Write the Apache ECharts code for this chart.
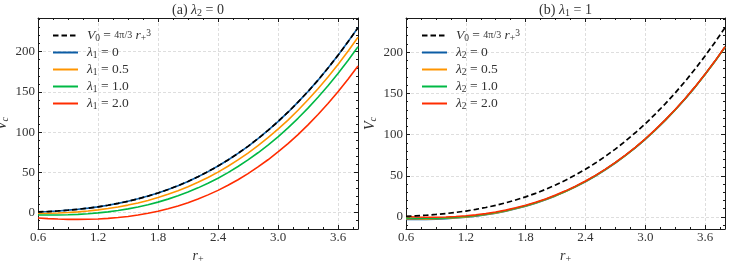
<!DOCTYPE html>
<html><head><meta charset="utf-8">
<script src="https://cdn.jsdelivr.net/npm/echarts@6/dist/echarts.min.js"></script>
<style>html,body{margin:0;padding:0;background:#fff}#c{width:730px;height:262px}</style>
</head><body><div id="c"></div>
<script>
// ---------- data ----------
const r = [0.6,0.7,0.8,0.9,1.0,1.1,1.2,1.3,1.4,1.5,1.6,1.7,1.8,1.9,2.0,2.1,2.2,2.3,2.4,2.5,2.6,2.7,2.8,2.9,3.0,3.1,3.2,3.3,3.4,3.5,3.6,3.7,3.8];
const V0 = [0.9,1.4,2.1,3.1,4.2,5.6,7.2,9.2,11.5,14.1,17.2,20.6,24.4,28.7,33.5,38.8,44.6,51.0,57.9,65.4,73.6,82.4,92.0,102.2,113.1,124.8,137.3,150.5,164.6,179.6,195.4,212.2,229.8];
// panel (a): lambda2 = 0
const a_l1_0  = [0.9,1.4,2.1,3.1,4.2,5.6,7.2,9.2,11.5,14.1,17.2,20.6,24.4,28.7,33.5,38.8,44.6,51.0,57.9,65.4,73.6,82.4,92.0,102.2,113.1,124.8,137.3,150.5,164.6,179.6,195.4,212.2,229.8];
const a_l1_05 = [-1.0,-0.8,-0.4,0.2,1.0,2.1,3.5,5.1,7.1,9.4,12.1,15.2,18.8,22.8,27.2,32.2,37.7,43.7,50.4,57.6,65.5,74.0,83.2,93.1,103.7,115.0,127.2,140.2,154.0,168.6,184.1,200.6,217.9];
const a_l1_10 = [-2.9,-3.0,-2.9,-2.6,-2.1,-1.3,-0.3,1.0,2.7,4.7,7.1,9.9,13.1,16.8,20.9,25.6,30.8,36.5,42.8,49.7,57.3,65.5,74.4,83.9,94.2,105.3,117.2,129.8,143.3,157.6,172.8,188.9,206.0];
const a_l1_20 = [-6.6,-7.4,-7.9,-8.3,-8.4,-8.2,-7.8,-7.1,-6.1,-4.7,-2.9,-0.8,1.8,4.9,8.4,12.4,17.0,22.1,27.7,34.0,40.9,48.5,56.8,65.7,75.4,85.8,97.0,109.1,121.9,135.6,150.2,165.7,182.1];
// panel (b): lambda1 = 1
const b_l2_0  = [-2.9,-3.0,-2.9,-2.6,-2.1,-1.3,-0.3,1.0,2.7,4.7,7.1,9.9,13.1,16.8,20.9,25.6,30.8,36.5,42.8,49.7,57.3,65.5,74.4,83.9,94.2,105.3,117.2,129.8,143.3,157.6,172.8,188.9,206.0];
const b_l2_05 = [-2.0,-2.2,-2.3,-2.0,-1.6,-0.9,0.1,1.4,3.1,5.0,7.4,10.2,13.4,17.1,21.2,25.8,31.0,36.7,43.0,49.9,57.5,65.7,74.5,84.1,94.4,105.5,117.3,129.9,143.4,157.7,172.9,189.1,206.1];
const b_l2_10 = [-1.2,-1.5,-1.6,-1.5,-1.1,-0.4,0.5,1.8,3.4,5.4,7.7,10.5,13.7,17.3,21.4,26.1,31.2,36.9,43.2,50.1,57.7,65.9,74.7,84.3,94.6,105.6,117.5,130.1,143.6,157.9,173.1,189.2,206.2];
const b_l2_20 = [0.5,-0.1,-0.4,-0.4,-0.1,0.5,1.4,2.6,4.1,6.0,8.3,11.1,14.2,17.8,21.9,26.6,31.7,37.4,43.7,50.5,58.1,66.2,75.1,84.6,94.9,106.0,117.8,130.4,143.9,158.2,173.4,189.5,206.5];

const xMinorTicks = [0.75,0.9,1.05,1.35,1.5,1.65,1.95,2.1,2.25,2.55,2.7,2.85,3.15,3.3,3.45,3.75];
const yMajorTicks = [0,50,100,150,200];
const yMinorTicks = [-10,10,20,30,40,60,70,80,90,110,120,130,140,160,170,180,190,210,220,230,240];

// ---------- styling ----------
const F = 'Liberation Serif';
const FS = 13;
const TXT = '#333';
function mkRich(fs, sfs, lh) {
  return {
    n: {fontFamily: F, fontSize: fs, color: TXT, lineHeight: lh, verticalAlign: 'middle'},
    i: {fontFamily: F, fontSize: fs, color: TXT, fontStyle: 'italic', lineHeight: lh, verticalAlign: 'middle'},
    s: {fontFamily: F, fontSize: sfs, color: TXT, lineHeight: lh, verticalAlign: 'bottom', padding: [0,0,1,0]},
    si: {fontFamily: F, fontSize: sfs, color: TXT, fontStyle: 'italic', lineHeight: lh, verticalAlign: 'bottom', padding: [0,0,1,0]},
    p: {fontFamily: F, fontSize: sfs, color: TXT, lineHeight: lh, verticalAlign: 'top', padding: [1,0,0,0]},
    f: {fontFamily: F, fontSize: sfs + 0.5, color: TXT, lineHeight: lh, verticalAlign: 'middle'}
  };
}
const richLegend = mkRich(13.5, 9.5, 17);
const richName = mkRich(14, 10, 18);
const labels = {
  V0: '{i|V}{s|0}{n| = }{f|4π/3}{i| r}{s|+}{p|3}',
  a0: '{i|λ}{s|1}{n| = 0}', a05: '{i|λ}{s|1}{n| = 0.5}', a10: '{i|λ}{s|1}{n| = 1.0}', a20: '{i|λ}{s|1}{n| = 2.0}',
  b0: '{i|λ}{s|2}{n| = 0}', b05: '{i|λ}{s|2}{n| = 0.5}', b10: '{i|λ}{s|2}{n| = 1.0}', b20: '{i|λ}{s|2}{n| = 2.0}'
};
const COLORS = {blue: '#0C5DA5', orange: '#FF9500', green: '#00B945', red: '#FF2C00'};
const FRAME = '#1a1a1a';
const gridLine = {show: true, lineStyle: {color: '#d6d6d6', type: [3, 2], width: 0.8}};
const ICON_SOLID = 'path://M0,0h25v2h-25z';
const ICON_DASH = 'path://M0,0h5.5v2h-5.5zM8.5,0h5.5v2h-5.5zM17,0h5.5v2h-5.5zM25,0h0.01v2h-0.01z';

const xAxes = [], yAxes = [];
function addAxes(g, ymin, ymax, title) {
  const base = {gridIndex: g, type: 'value', min: 0.6, max: 3.8};
  xAxes.push(Object.assign({}, base, {position: 'bottom', interval: 0.6,
    axisLine: {show: true, onZero: false, lineStyle: {color: FRAME, width: 1}},
    axisTick: {show: true, inside: true, length: 4, lineStyle: {color: FRAME}},
    axisLabel: {show: true, fontFamily: F, fontSize: FS, color: TXT, margin: 2, showMaxLabel: false,
      formatter: v => v.toFixed(1)},
    splitLine: gridLine,
    name: '{i|r}{s|+}', nameLocation: 'middle', nameGap: 8, nameTextStyle: {rich: richName}}));
  xAxes.push(Object.assign({}, base, {position: 'top', interval: 0.6,
    axisLine: {show: true, onZero: false, lineStyle: {color: FRAME, width: 1}},
    axisTick: {show: true, inside: true, length: 4, lineStyle: {color: FRAME}},
    axisLabel: {show: false}, splitLine: {show: false},
    name: title, nameLocation: 'middle', nameGap: -1, nameTextStyle: {rich: richName}}));
  ['bottom', 'top'].forEach(p => xAxes.push(Object.assign({}, base, {position: p,
    axisLine: {show: false, onZero: false},
    axisTick: {show: true, inside: true, length: 2, lineStyle: {color: FRAME}, customValues: xMinorTicks},
    axisLabel: {show: false}, splitLine: {show: false}})));
  const yb = {gridIndex: g, type: 'value', min: ymin, max: ymax, splitNumber: 5};
  yAxes.push(Object.assign({}, yb, {position: 'left',
    axisLine: {show: true, onZero: false, lineStyle: {color: FRAME, width: 1}},
    axisTick: {show: true, inside: true, length: 4, lineStyle: {color: FRAME}, customValues: yMajorTicks},
    axisLabel: {show: true, fontFamily: F, fontSize: FS, color: TXT, margin: 3, customValues: yMajorTicks},
    splitLine: gridLine,
    name: '{i|V}{si|c}', nameLocation: 'middle', nameGap: 13, nameTextStyle: {rich: richName}}));
  yAxes.push(Object.assign({}, yb, {position: 'right',
    axisLine: {show: true, onZero: false, lineStyle: {color: FRAME, width: 1}},
    axisTick: {show: true, inside: true, length: 4, lineStyle: {color: FRAME}, customValues: yMajorTicks},
    axisLabel: {show: false}, splitLine: {show: false}}));
  ['left', 'right'].forEach(p => yAxes.push(Object.assign({}, yb, {position: p,
    axisLine: {show: false, onZero: false},
    axisTick: {show: true, inside: true, length: 2, lineStyle: {color: FRAME}, customValues: yMinorTicks},
    axisLabel: {show: false}, splitLine: {show: false}})));
}
addAxes(0, -20.3, 241.8, '{n|(a) }{i|λ}{s|2}{n| = 0}');
addAxes(1, -14.6, 241.5, '{n|(b) }{i|λ}{s|1}{n| = 1}');

function pts(ys) { return r.map((x, k) => [x, ys[k]]); }
function line(name, g, ys, color, dashed, z) {
  return {name, type: 'line', xAxisIndex: 4 * g, yAxisIndex: 4 * g, data: pts(ys),
    symbol: 'none', smooth: false, z: z || 2, silent: true,
    lineStyle: {color, width: dashed ? 1.7 : 1.6, type: dashed ? [5.5, 3] : 'solid'},
    itemStyle: {color}};
}
const series = [
  line('a0', 0, a_l1_0, COLORS.blue),
  line('a05', 0, a_l1_05, COLORS.orange),
  line('a10', 0, a_l1_10, COLORS.green),
  line('a20', 0, a_l1_20, COLORS.red),
  line('V0', 0, V0, '#000', true, 3),
  line('b0', 1, b_l2_0, COLORS.blue),
  line('b05', 1, b_l2_05, COLORS.orange),
  line('b10', 1, b_l2_10, COLORS.green),
  line('b20', 1, b_l2_20, COLORS.red),
  line('V0', 1, V0, '#000', true, 3)
];
function legend(left, names) {
  return {left, top: 22, orient: 'vertical',
    data: names.map(n => ({name: n, icon: n === 'V0' ? ICON_DASH : ICON_SOLID})),
    itemWidth: 25, itemHeight: 2, itemGap: 1.5, symbolKeepAspect: false,
    selectedMode: false, formatter: n => labels[n],
    textStyle: {fontFamily: F, fontSize: 13.5, color: TXT, padding: [0, 0, 0, 4], rich: richLegend}};
}
const option = {
  animation: false,
  backgroundColor: '#fff',
  grid: [
    {left: 38, top: 18, width: 320, height: 211, outerBoundsMode: 'none', containLabel: false},
    {left: 406, top: 18, width: 319, height: 211, outerBoundsMode: 'none', containLabel: false}
  ],
  xAxis: xAxes, yAxis: yAxes,
  legend: [legend(48, ['V0', 'a0', 'a05', 'a10', 'a20']), legend(417, ['V0', 'b0', 'b05', 'b10', 'b20'])],
  series
};
const chart = echarts.init(document.getElementById('c'), null, {renderer: 'canvas'});
chart.setOption(option);
</script>
</body></html>
